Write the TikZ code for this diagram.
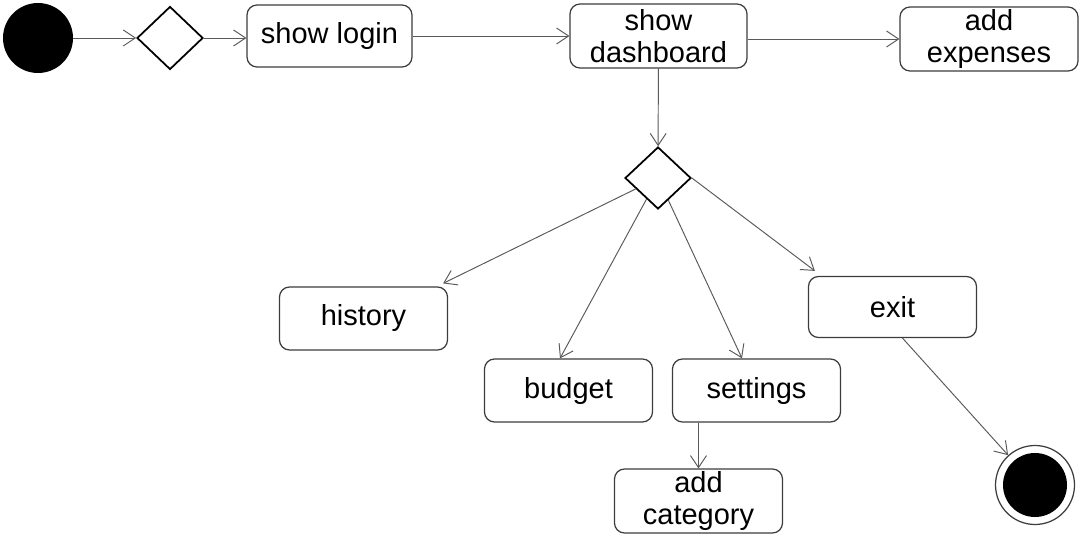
\documentclass[tikz,border=0pt]{standalone}
\usepackage{fontspec}
\setmainfont{Liberation Sans}
\usepackage{xcolor}
\usetikzlibrary{arrows.meta,positioning,calc,shapes.geometric}
\definecolor{boxgray}{HTML}{3C3C3C}
\definecolor{linegray}{HTML}{5A5A5A}
\begin{document}
\begin{tikzpicture}[
  act/.style={draw=boxgray, line width=0.7pt, rounded corners=2mm, minimum width=3.36cm, minimum height=1.26cm, align=center, inner sep=0pt, font=\fontsize{16.5}{18.2}\selectfont},
  dec/.style={draw=black, line width=1pt, diamond, minimum width=1.32cm, minimum height=1.26cm, inner sep=0pt},
  fl/.style={-{Straight Barb[length=2.4mm,width=3.2mm]}, draw=linegray, line width=0.55pt}
]
\useasboundingbox (0,0) rectangle (21.62,-10.74);
% top row
\node[circle, fill=black, minimum size=1.4cm, inner sep=0pt] (start) at (0.76,-0.76) {};
\node[dec] (d1) at (3.4,-0.76) {};
\node[act, minimum width=3.3cm, minimum height=1.24cm] (login) at (6.59,-0.72) {show login};
\node[act, minimum width=3.54cm, minimum height=1.28cm] (dash) at (13.17,-0.72) {show\\dashboard};
\node[act, minimum width=3.56cm, minimum height=1.28cm] (exp) at (19.78,-0.78) {add\\expenses};
% branch
\node[dec, minimum height=1.24cm] (d2) at (13.16,-3.56) {};
\node[act] (hist) at (7.27,-6.37) {history};
\node[act] (budget) at (11.37,-7.81) {budget};
\node[act] (set) at (15.13,-7.81) {settings};
\node[act, minimum height=1.22cm] (exit) at (17.85,-6.14) {exit};
\node[act, minimum height=1.28cm] (cat) at (13.97,-10.02) {add\\category};
% final node
\node[circle, draw=boxgray, line width=0.7pt, minimum size=1.58cm, inner sep=0pt] (end) at (20.7,-9.7) {};
\node[circle, fill=black, minimum size=1.28cm, inner sep=0pt] (endin) at (end) {};

\draw[fl] (start) -- (d1);
\draw[fl] (d1.east) -- (d1.east -| login.west);
\draw[fl] (login.east) -- (login.east -| dash.west);
\draw[fl] (dash.east |- exp.west) -- (exp.west);
\draw[fl] (dash) -- (d2);
\draw[fl] (d2) -- ([xshift=-0.1cm,yshift=0.06cm]hist.north east);
\draw[fl] (d2) -- ([xshift=-0.17cm]budget.north);
\draw[fl] (d2) -- ([xshift=-0.29cm]set.north);
\draw[fl] (d2.east) -- ([xshift=0.14cm,yshift=0.1cm]exit.north west);
\draw[fl] (set.south -| cat.north) -- (cat.north);
\draw[fl] ([xshift=0.2cm]exit.south) -- (end);
\end{tikzpicture}
\end{document}
